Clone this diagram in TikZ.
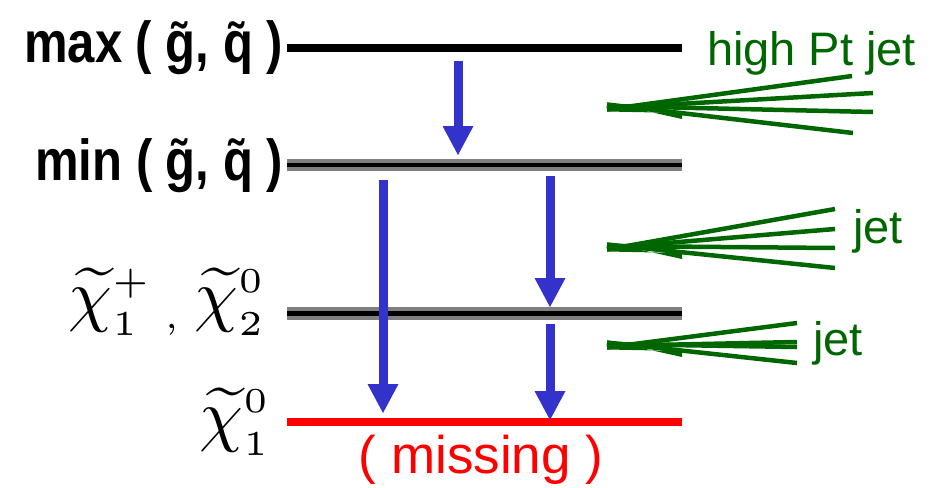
\documentclass[tikz,border=0pt]{standalone}
\usepackage{fontspec}
\usepackage{graphicx}
\setmainfont{Liberation Sans}
\usetikzlibrary{arrows.meta}
\definecolor{jetgreen}{RGB}{0,102,0}
\definecolor{arrowblue}{RGB}{51,51,204}
\definecolor{levelgray}{RGB}{128,128,128}
\definecolor{missred}{RGB}{255,0,0}
\begin{document}
\begin{tikzpicture}[x=1pt,y=-1pt,
  lbl/.style={inner sep=0pt,outer sep=0pt},
  sqlabel/.style={lbl,anchor=base east,font=\fontsize{49}{49}\bfseries\selectfont},
  chilabel/.style={lbl,anchor=base east},
  jetlabel/.style={lbl,anchor=base west,text=jetgreen,font=\fontsize{47}{47}\selectfont},
  jetray/.style={draw=jetgreen,line width=4.5pt},
  jetcore/.style={fill=jetgreen},
  decay/.style={draw=arrowblue,line width=9pt,-{Triangle[width=31pt,length=29pt,line width=0pt]}},
  blacklevel/.style={draw=black,line width=8pt},
  graylevel/.style={draw=levelgray,line width=12.5pt},
  graycore/.style={draw=black,line width=4.5pt},
  redlevel/.style={draw=missred,line width=8pt}
]
\useasboundingbox (0,0) rectangle (936,487);

% level end points
\coordinate (maxL) at (287,48);   \coordinate (maxR) at (682,48);
\coordinate (minL) at (287,165);  \coordinate (minR) at (682,165);
\coordinate (chiL) at (287,313.5);\coordinate (chiR) at (682,313.5);
\coordinate (lspL) at (287,422);  \coordinate (lspR) at (682,422);

% levels
\draw[blacklevel] (maxL) -- (maxR);
\draw[graylevel] (minL) -- (minR);
\draw[graycore] (minL) -- (minR);
\draw[graylevel] (chiL) -- (chiR);
\draw[graycore] (chiL) -- (chiR);
\draw[redlevel] (lspL) -- (lspR);

% level labels
\node[sqlabel] (lmax) at (283,63) {\scalebox{1}[1.18]{max ( \~{g}, \~{q} )}};
\node[sqlabel] (lmin) at (283,180) {\scalebox{1}[1.18]{min ( \~{g}, \~{q} )}};
\node[chilabel] (lchi) at (266,318) {\scalebox{7}{$\widetilde{\chi}_{\scriptscriptstyle 1}^{\scriptscriptstyle +}\,{}_{\scriptscriptstyle ,}\,\widetilde{\chi}_{\scriptscriptstyle 2}^{\scriptscriptstyle 0}$}};
\node[chilabel] (llsp) at (271,438) {\scalebox{7}{$\widetilde{\chi}_{\scriptscriptstyle 1}^{\scriptscriptstyle 0}$}};
\node[lbl,anchor=base,text=missred,font=\fontsize{53}{53}\selectfont] (miss) at (481,473) {( missing )};

% decay arrows
\coordinate (a1s) at (458,61);  \coordinate (a1e) at (458,155);
\coordinate (a2s) at (383,180); \coordinate (a2e) at (383,413);
\coordinate (a3s) at (550,176); \coordinate (a3e) at (550,307);
\coordinate (a4s) at (550,324); \coordinate (a4e) at (550,420);
\draw[decay] (a1s) -- (a1e);
\draw[decay] (a2s) -- (a2e);
\draw[decay] (a3s) -- (a3e);
\draw[decay] (a4s) -- (a4e);

% jets (apex points, solid core and fanned rays)
\coordinate (j1) at (607,107);
\coordinate (j2) at (607,247);
\coordinate (j3) at (607,345);
\foreach \j in {j1,j2,j3}
  \fill[jetcore] ([yshift=-4.5pt]\j) -- ++(75,1.5) -- ++(0,6) -- ([yshift=4.5pt]\j) -- cycle;
\foreach \ex/\ey/\dy in {852/76/-2.5,873/93/-1,873/112/1,853/133/2.5}
  \draw[jetray] ([yshift=\dy pt]j1) -- (\ex,\ey);
\foreach \ey/\dy in {209/-2.5,229/-1,248/1,268/2.5}
  \draw[jetray] ([yshift=\dy pt]j2) -- (835,\ey);
\foreach \ey/\dy in {323/-2.5,342/-1,347/1,363/2.5}
  \draw[jetray] ([yshift=\dy pt]j3) -- (797,\ey);

\node[jetlabel] (t1) at (707,65) {high Pt jet};
\node[jetlabel] (t2) at (853,243) {jet};
\node[jetlabel] (t3) at (813,355) {jet};
\end{tikzpicture}
\end{document}
